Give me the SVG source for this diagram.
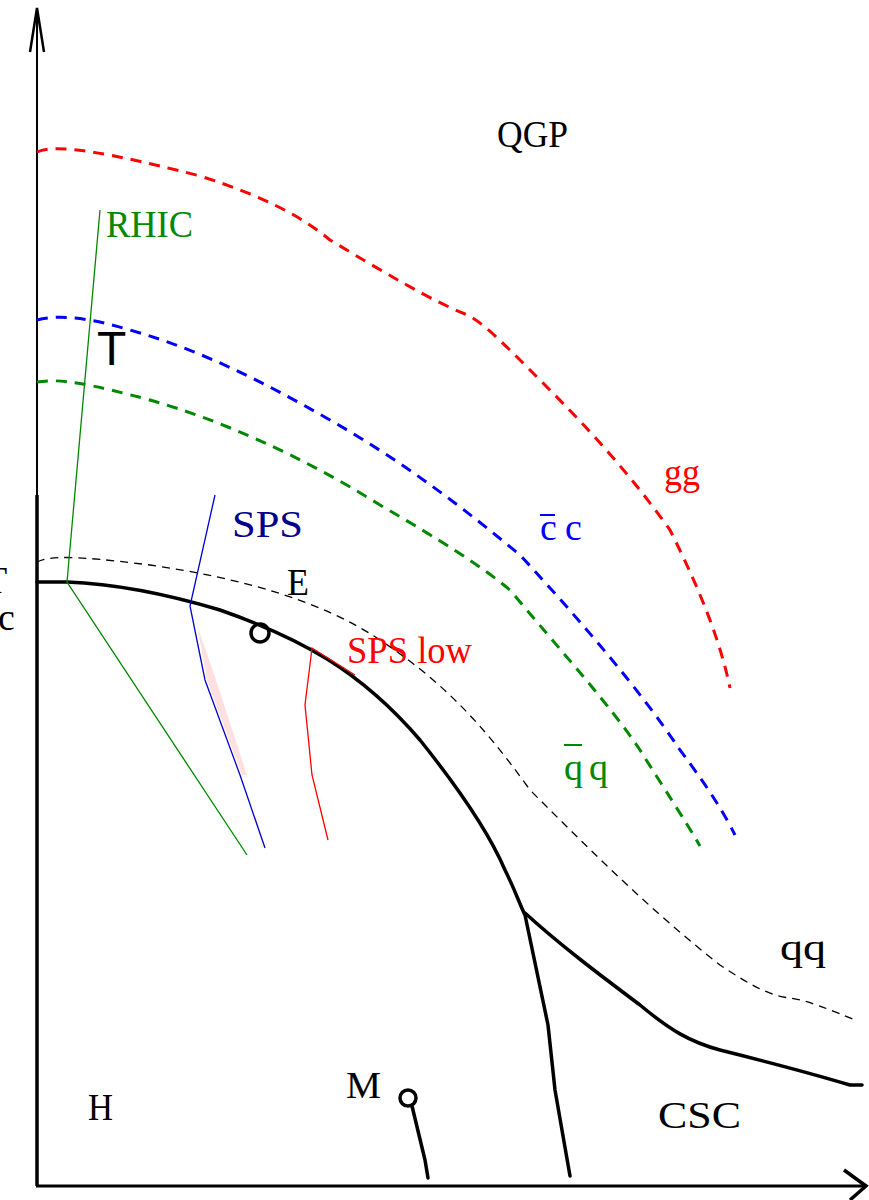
<svg xmlns="http://www.w3.org/2000/svg" width="869" height="1200" viewBox="0 0 869 1200">
<style>
text{font-family:"Liberation Serif","Times New Roman",serif;font-size:38px}
.dash{fill:none;stroke-width:3;stroke-dasharray:11 8}
.thin{fill:none;stroke-width:1.3}
.bold{fill:none;stroke:#000;stroke-width:3.5;stroke-linejoin:round;stroke-linecap:round}
</style>
<rect width="869" height="1200" fill="#fff"/>
<g id="axes" fill="none" stroke="#000">
<path d="M37 1186V8" stroke-width="2"/>
<path d="M37 1186V495" stroke-width="3.5"/>
<path d="M30 52L37 8L44 52" stroke-width="2.5"/>
<path d="M36 1186H866" stroke-width="3"/>
<path d="M844 1170L866 1186L850 1200" stroke-width="3.5"/>
</g>
<g id="connectors">
<path id="shade" d="M197 625L207 680L242 775L247 775L216 680Z" fill="#ffe0e0"/>
<path id="gg-curve" class="dash" stroke="#f00" d="M37 152C50 146 80 145 200 176C260 195 300 215 330 240C380 270 430 300 465 314C480 320 500 340 530 370C570 410 620 460 670 530C700 590 720 640 730 688"/>
<path id="cc-curve" class="dash" stroke="#00f" d="M37 320C60 314 90 318 130 330C200 350 260 380 330 420C400 460 460 505 520 555C580 620 640 690 680 750C710 790 725 815 735 835"/>
<path id="qq-curve" class="dash" stroke="#080" d="M37 382C60 378 90 384 150 400C220 420 300 455 380 505C440 540 480 565 510 590C560 650 610 705 640 750C665 790 685 820 700 846"/>
<path id="crossover" class="thin" stroke="#000" stroke-dasharray="8 6" d="M37 562C50 556 70 555 150 565C240 578 320 600 380 640C440 680 480 720 530 790C590 850 650 910 720 965C750 985 770 996 790 998C810 1001 830 1010 858 1021"/>
<path id="boundary" class="bold" d="M37 582H67C120 584 170 595 220 610C300 638 360 670 420 740C460 790 490 835 505 870C515 890 520 905 525 915L548 1025L555 1090L570 1176"/>
<path id="boundary2" class="bold" d="M525 913C560 945 600 975 640 1005C670 1030 690 1042 720 1050C760 1060 800 1070 850 1085H862"/>
<path id="rhic" class="thin" stroke="#080" d="M100 210L67 582L247 855"/>
<path id="sps" class="thin" stroke="#00c" d="M215 495L190 606L205 680L240 775L265 848"/>
<path id="spslow" class="thin" stroke="#f00" d="M355 675L312 648L305 705L312 775L328 840"/>
<circle id="E-point" cx="260" cy="633" r="9" fill="none" stroke="#000" stroke-width="3.5"/>
<circle id="M-point" cx="408" cy="1098" r="8" fill="none" stroke="#000" stroke-width="3.5"/>
<path d="M412 1106L425 1160L428 1178" class="bold"/>
</g>
<g id="labels">
<text x="497" y="147" font-size="40" textLength="71" lengthAdjust="spacingAndGlyphs">QGP</text>
<text x="106" y="237" fill="#080" textLength="87" lengthAdjust="spacingAndGlyphs">RHIC</text>
<text x="97" y="365" style="font-family:'Liberation Sans',Arial,sans-serif;font-size:48px">T</text>
<text x="232" y="537" fill="#00008b" textLength="71" lengthAdjust="spacingAndGlyphs">SPS</text>
<text x="664" y="485" fill="#f00" textLength="36" lengthAdjust="spacingAndGlyphs">gg</text>
<text x="540" y="540" fill="#00f">c</text><text x="565" y="540" fill="#00f">c</text>
<path d="M540 515H555" stroke="#00f" stroke-width="2"/>
<text x="287" y="595" textLength="22" lengthAdjust="spacingAndGlyphs">E</text>
<text x="347" y="663" fill="#f00" textLength="125" lengthAdjust="spacingAndGlyphs">SPS low</text>
<text x="564" y="780" fill="#080">q</text><text x="589" y="780" fill="#080">q</text>
<path d="M564 745H582" stroke="#080" stroke-width="2"/>
<text x="780" y="960" textLength="46" lengthAdjust="spacingAndGlyphs">qq</text>
<text x="88" y="1120" textLength="25" lengthAdjust="spacingAndGlyphs">H</text>
<text x="346" y="1098" textLength="35" lengthAdjust="spacingAndGlyphs">M</text>
<text x="658" y="1128" font-size="46" textLength="83" lengthAdjust="spacingAndGlyphs">CSC</text>
<text x="-16" y="593">T</text>
<text x="-2" y="630">c</text>
</g>
</svg>
